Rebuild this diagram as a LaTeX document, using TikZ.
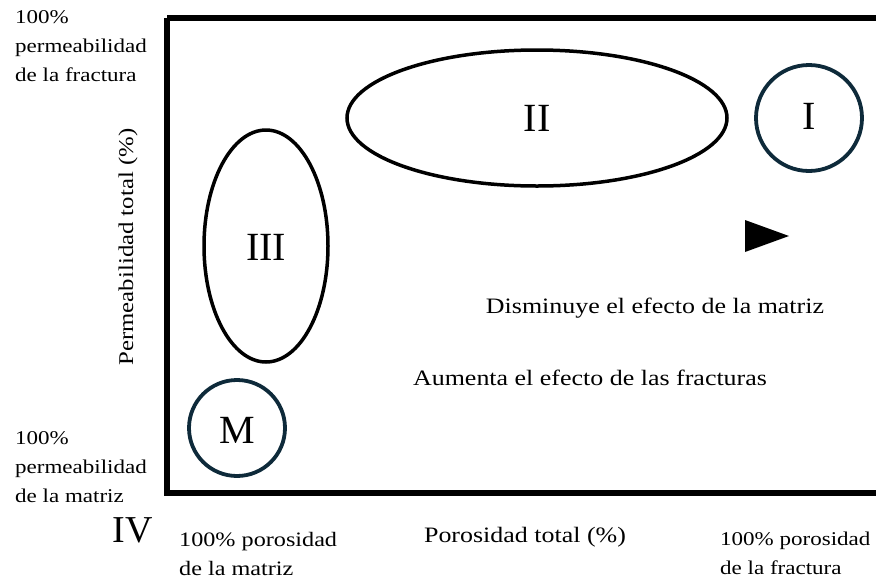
\documentclass[tikz,border=0pt]{standalone}
\usepackage{fontspec}
\setmainfont[FakeStretch=1.18]{Liberation Serif}
\newfontfamily\romanf{Liberation Serif}
\definecolor{navy}{HTML}{0E2A3A}
\begin{document}
\begin{tikzpicture}[x=1pt,y=-1pt,
  shp/.style={draw=black,line width=3.5pt},
  circ/.style={draw=navy,line width=3.8pt},
  roman/.style={font=\romanf\fontsize{40}{42}\selectfont, inner sep=0pt},
  lbl/.style={font=\fontsize{22}{29}\selectfont, inner sep=0pt},
  side/.style={font=\fontsize{19.5}{29}\selectfont, align=left, inner sep=0pt},
  bot/.style={font=\fontsize{20.5}{29}\selectfont, align=left, inner sep=0pt}]
\useasboundingbox (0,0) rectangle (876,582);
\draw[line width=6pt] (167,18) -- (882,18) (167,18) -- (167,493) -- (882,493);
\node[circ, circle, minimum size=106pt, inner sep=0pt] (I) at (809,118) {};
\node[roman] (tI) at (809,116) {I};
\draw[shp] (537,118) ellipse [x radius=190, y radius=68];
\coordinate (II) at (537,118);
\node[roman] (tII) at (537,118) {II};
\draw[shp] (266,246) ellipse [x radius=62, y radius=116];
\coordinate (III) at (266,246);
\node[roman] (tIII) at (266,247) {III};
\node[circ, circle, minimum size=96pt, inner sep=0pt] (M) at (237,428) {};
\node[roman] (tM) at (237,430) {M};
\fill (745,220) -- (789,236) -- (745,252) -- cycle;
\node[lbl] (dis) at (655,308) {Disminuye el efecto de la matriz};
\node[lbl] (aum) at (590,378) {Aumenta el efecto de las fracturas};
\node[font=\fontsize{21}{29}\selectfont, inner sep=0pt, rotate=90] (py) at (128,247) {Permeabilidad total (\%)};
\node[side, anchor=north west] (tf) at (15,10) {100\%\\permeabilidad\\de la fractura};
\node[side, anchor=north west] (tm) at (15,431) {100\%\\permeabilidad\\de la matriz};
\node[font=\romanf\fontsize{38}{40}\selectfont, inner sep=0pt] (IV) at (133,530) {IV};
\node[bot, anchor=north west] (pm) at (179,532) {100\% porosidad\\de la matriz};
\node[lbl] (pt) at (525,537) {Porosidad total (\%)};
\node[side, anchor=north west] (pf) at (720,532) {100\% porosidad\\de la fractura};
\end{tikzpicture}
\end{document}
